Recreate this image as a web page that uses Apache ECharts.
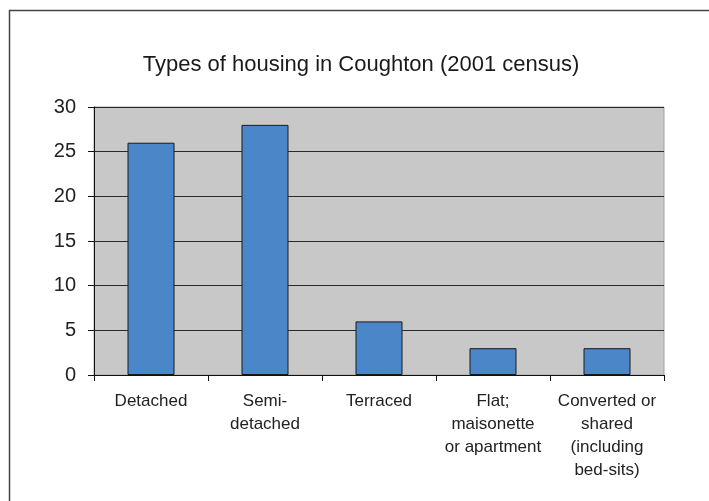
<!DOCTYPE html>
<html>
<head>
<meta charset="utf-8">
<title>Types of housing in Coughton</title>
<script src="https://cdn.jsdelivr.net/npm/echarts@6/dist/echarts.min.js"></script>
<style>
  html, body { margin: 0; padding: 0; background: #fff; }
  #chart { width: 709px; height: 501px; }
</style>
</head>
<body>
<div id="chart"></div>
<script>
// 2001 census housing types in Coughton
const categories = [
  'Detached',
  'Semi-\ndetached',
  'Terraced',
  'Flat;\nmaisonette\nor apartment',
  'Converted or\nshared\n(including\nbed-sits)'
]
const households = [26, 28, 6, 3, 3]

const chart = echarts.init(document.getElementById('chart'))

const option = {
  backgroundColor: '#fff',
  animation: false,
  textStyle: { fontFamily: 'Liberation Sans, Arial, sans-serif' },
  title: {
    text: 'Types of housing in Coughton (2001 census)',
    left: 356,
    textAlign: 'center',
    top: 49,
    textStyle: { fontSize: 22, fontWeight: 'normal', color: '#1a1a1a' }
  },
  grid: {
    left: 94,
    right: 45,
    top: 107,
    bottom: 126,
    show: true,
    backgroundColor: '#c8c8c9',
    borderColor: '#a3a3a3',
    borderWidth: 1
  },
  xAxis: {
    type: 'category',
    data: categories,
    axisLine: { lineStyle: { color: '#111', width: 1 } },
    axisTick: { show: true, length: 6, lineStyle: { color: '#111' } },
    axisLabel: {
      interval: 0,
      fontSize: 17,
      lineHeight: 23,
      margin: 15,
      color: '#222'
    },
    splitLine: { show: false }
  },
  yAxis: {
    type: 'value',
    min: 0,
    max: 30,
    interval: 5,
    axisLine: { show: true, lineStyle: { color: '#111', width: 1 } },
    axisTick: { show: true, length: 6, lineStyle: { color: '#111' } },
    axisLabel: { fontSize: 20, margin: 18, color: '#222' },
    splitLine: { lineStyle: { color: '#2a2a2a', width: 1 } }
  },
  series: [
    {
      type: 'bar',
      data: households,
      barWidth: 47,
      itemStyle: {
        color: '#4a86c8',
        borderColor: '#1a1a1a',
        borderWidth: 1
      }
    }
  ],
  graphic: [
    {
      // outer frame (top and left edges only are visible)
      type: 'polyline',
      shape: { points: [[9.5, 501], [9.5, 10.5], [709, 10.5]] },
      style: { stroke: '#444', lineWidth: 1.5, fill: null }
    }
  ]
}

chart.setOption(option)
</script>
</body>
</html>
